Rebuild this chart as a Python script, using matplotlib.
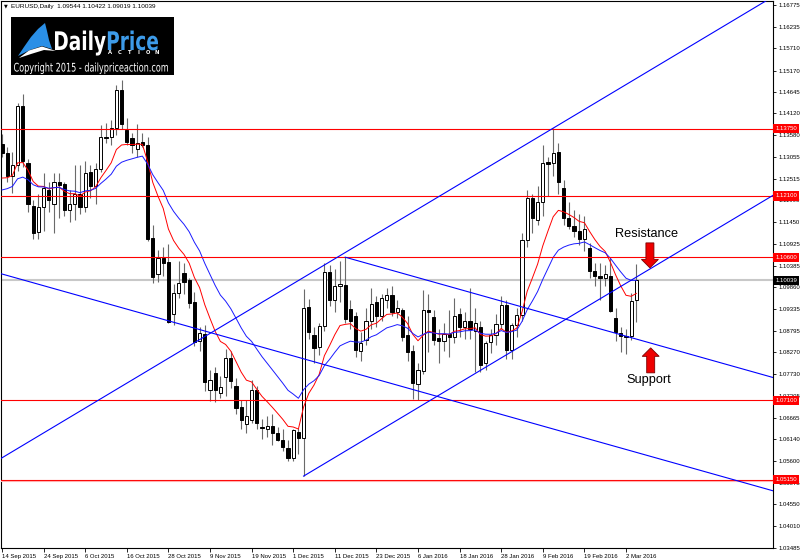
import matplotlib
matplotlib.use('Agg')
import matplotlib.pyplot as plt
import matplotlib.transforms as mtransforms
from matplotlib.patches import Polygon, Rectangle, PathPatch
from matplotlib.textpath import TextPath, TextToPath
from matplotlib.font_manager import FontProperties

# EURUSD daily, 14 Sep 2015 .. 4 Mar 2016 (123 bars)
opens = [1.1338, 1.1316, 1.1260, 1.1285, 1.1430, 1.1290, 1.1185, 1.1122, 1.1183, 1.1225,
         1.1190, 1.1243, 1.1240, 1.1175, 1.1190, 1.1215, 1.1183, 1.1268, 1.1235, 1.1275,
         1.1355, 1.1355, 1.1376, 1.1470, 1.1371, 1.1352, 1.1325, 1.1343, 1.1335, 1.1107,
         1.1018, 1.1058, 1.1049, 1.0921, 1.0973, 1.1021, 1.1004, 1.0950, 1.0855, 1.0873,
         1.0736, 1.0777, 1.0728, 1.0767, 1.0814, 1.0745, 1.0694, 1.0651, 1.0662, 1.0735,
         1.0645, 1.0640, 1.0647, 1.0630, 1.0613, 1.0594, 1.0568, 1.0632, 1.0617, 1.0938,
         1.0870, 1.0840, 1.0891, 1.1024, 1.0955, 1.0990, 1.0993, 1.0932, 1.0915, 1.0830,
         1.0857, 1.0903, 1.0950, 1.0915, 1.0955, 1.0967, 1.0925, 1.0930, 1.0870, 1.0830,
         1.0750, 1.0782, 1.0930, 1.0913, 1.0863, 1.0855, 1.0873, 1.0865, 1.0922, 1.0888,
         1.0905, 1.0880, 1.0889, 1.0800, 1.0852, 1.0870, 1.0897, 1.0943, 1.0833, 1.0893,
         1.0918, 1.1103, 1.1205, 1.1150, 1.1195, 1.1292, 1.1290, 1.1318, 1.1230, 1.1155,
         1.1136, 1.1125, 1.1105, 1.1083, 1.1027, 1.1015, 1.1010, 1.1015, 1.0912, 1.0875,
         1.0867, 1.0867, 1.09544]
highs = [1.1362, 1.1330, 1.1318, 1.1437, 1.1460, 1.1300, 1.1200, 1.1215, 1.1265, 1.1245,
         1.1265, 1.1265, 1.1245, 1.1225, 1.1286, 1.1286, 1.1295, 1.1285, 1.1290, 1.1384,
         1.1388, 1.1395, 1.1482, 1.1494, 1.1400, 1.1365, 1.1385, 1.1365, 1.1355, 1.1139,
         1.1077, 1.1085, 1.1093, 1.0995, 1.1050, 1.1046, 1.1010, 1.0975, 1.0888, 1.0895,
         1.0785, 1.0790, 1.0770, 1.0836, 1.0830, 1.0765, 1.0710, 1.0710, 1.0760, 1.0745,
         1.0665, 1.0670, 1.0677, 1.0645, 1.0640, 1.0612, 1.0640, 1.0643, 1.0982, 1.0958,
         1.0890, 1.0900, 1.1046, 1.1040, 1.1030, 1.1050, 1.1060, 1.0955, 1.0925, 1.0877,
         1.0935, 1.0985, 1.0965, 1.0970, 1.0985, 1.0990, 1.0955, 1.0935, 1.0915, 1.0845,
         1.0800, 1.0980, 1.0970, 1.0930, 1.0885, 1.0900, 1.0930, 1.0960, 1.0935, 1.0925,
         1.0985, 1.0935, 1.0905, 1.0855, 1.0885, 1.0920, 1.0965, 1.0955, 1.0900, 1.0935,
         1.1120, 1.1225, 1.1215, 1.1235, 1.1335, 1.1305, 1.1376, 1.1340, 1.1250, 1.1195,
         1.1175, 1.1165, 1.1160, 1.1095, 1.1045, 1.1045, 1.1040, 1.1058, 1.0935, 1.0890,
         1.0885, 1.0973, 1.10422]
lows = [1.1305, 1.1245, 1.1218, 1.1270, 1.1280, 1.1170, 1.1105, 1.1105, 1.1125, 1.1170,
        1.1120, 1.1155, 1.1160, 1.1145, 1.1150, 1.1165, 1.1170, 1.1205, 1.1190, 1.1268,
        1.1340, 1.1335, 1.1360, 1.1375, 1.1335, 1.1315, 1.1305, 1.1330, 1.1100, 1.0997,
        1.1000, 1.1015, 1.0898, 1.0895, 1.0960, 1.0970, 1.0935, 1.0843, 1.0830, 1.0733,
        1.0708, 1.0705, 1.0715, 1.0720, 1.0740, 1.0675, 1.0640, 1.0630, 1.0655, 1.0640,
        1.0615, 1.0620, 1.0601, 1.0610, 1.0585, 1.0560, 1.0560, 1.0578, 1.0524, 1.0860,
        1.0800, 1.0820, 1.0880, 1.0940, 1.0925, 1.0950, 1.0900, 1.0885, 1.0815, 1.0806,
        1.0845, 1.0885, 1.0890, 1.0905, 1.0935, 1.0915, 1.0910, 1.0855, 1.0805, 1.0712,
        1.0710, 1.0775, 1.0828, 1.0845, 1.0800, 1.0830, 1.0815, 1.0850, 1.0865, 1.0860,
        1.0860, 1.0780, 1.0780, 1.0785, 1.0825, 1.0845, 1.0885, 1.0810, 1.0810, 1.0865,
        1.0905, 1.1085, 1.1120, 1.1140, 1.1160, 1.1210, 1.1260, 1.1215, 1.1140, 1.1130,
        1.1110, 1.1090, 1.1075, 1.1010, 1.0990, 1.0956, 1.0990, 1.0925, 1.0855, 1.0828,
        1.0822, 1.0858, 1.09019]
closes = [1.1316, 1.1258, 1.1285, 1.1430, 1.1295, 1.1190, 1.1120, 1.1183, 1.1230, 1.1200,
          1.1243, 1.1238, 1.1175, 1.1190, 1.1215, 1.1183, 1.1265, 1.1235, 1.1275, 1.1355,
          1.1353, 1.1376, 1.1470, 1.1385, 1.1342, 1.1335, 1.1340, 1.1335, 1.1105, 1.1012,
          1.1058, 1.1046, 1.0902, 1.0973, 1.0997, 1.0999, 1.0948, 1.0853, 1.0874, 1.0755,
          1.0760, 1.0735, 1.0743, 1.0813, 1.0757, 1.0690, 1.0662, 1.0670, 1.0735, 1.0655,
          1.0642, 1.0647, 1.0630, 1.0613, 1.0596, 1.0569, 1.0637, 1.0617, 1.0936, 1.0877,
          1.0838, 1.0892, 1.1024, 1.0955, 1.0990, 1.0994, 1.0908, 1.0905, 1.0832, 1.0850,
          1.0903, 1.0945, 1.0915, 1.0960, 1.0967, 1.0926, 1.0935, 1.0865, 1.0828, 1.0752,
          1.0785, 1.0930, 1.0925, 1.0858, 1.0855, 1.0873, 1.0865, 1.0915, 1.0888, 1.0905,
          1.0885, 1.0898, 1.0796, 1.0849, 1.0870, 1.0897, 1.0943, 1.0833, 1.0895, 1.0918,
          1.1103, 1.1205, 1.1156, 1.1195, 1.1290, 1.1288, 1.1316, 1.1245, 1.1155, 1.1136,
          1.1123, 1.1105, 1.1130, 1.1027, 1.1015, 1.1010, 1.1018, 1.0929, 1.0878, 1.0867,
          1.0864, 1.0953, 1.10039]

date_labels = ['14 Sep 2015', '24 Sep 2015', '6 Oct 2015', '16 Oct 2015', '28 Oct 2015',
               '9 Nov 2015', '19 Nov 2015', '1 Dec 2015', '11 Dec 2015', '23 Dec 2015',
               '6 Jan 2016', '18 Jan 2016', '28 Jan 2016', '9 Feb 2016', '19 Feb 2016',
               '2 Mar 2016']
price_ticks = [1.16775, 1.16235, 1.15710, 1.15170, 1.14645, 1.14120, 1.13580, 1.13055,
               1.12515, 1.11990, 1.11450, 1.10925, 1.10385, 1.09860, 1.09335, 1.08795,
               1.08270, 1.07730, 1.07205, 1.06665, 1.06140, 1.05600, 1.05075, 1.04550,
               1.04010, 1.03485]
levels = [1.13750, 1.12100, 1.10600, 1.07100, 1.05150]
last_price = 1.10039

# moving averages (10 and 20 EMA), values before the first bar
ema_fast_seed = 1.1240
ema_slow_seed = 1.1215

# trend channel anchors (bar, price)
up_anchor = (0, 1.05688)
up_touch = (106, 1.1376)
up_low_anchor = (58, 1.0524)
dn_anchor = (66, 1.1060)
dn_low_anchor = (26.5, 1.0924)
dn_slope = -0.000358


def ema(vals, period, seed):
    a = 2.0 / (period + 1)
    out = []
    prev = seed
    for v in vals:
        prev = prev + a * (v - prev)
        out.append(prev)
    return out


n = len(closes)
x = list(range(n))

fig = plt.figure(figsize=(8, 5.6), dpi=100)
ax = fig.add_axes([1 / 800, 12 / 560, 772 / 800, 547 / 560])
ax.set_xlim(-0.19, 148.27)
ax.set_ylim(1.0348, 1.16873)

# candles
ax.vlines(x, lows, highs, color='#6a6a6a', lw=0.8, zorder=2)
for i in range(n):
    o, c = opens[i], closes[i]
    bottom = min(o, c)
    h = max(abs(c - o), 0.00012)
    fc = 'white' if c >= o else 'black'
    ax.add_patch(Rectangle((i - 0.31, bottom), 0.62, h, fc=fc, ec='black', lw=0.7, zorder=3))

# moving averages
ax.plot(x, ema(closes, 10, ema_fast_seed), color='#ff0000', lw=0.7, zorder=4)
ax.plot(x, ema(closes, 20, ema_slow_seed), color='#1a1aff', lw=0.7, zorder=4)

# horizontal levels
ax.axhline(last_price, color='#c8c8c8', lw=1.5, zorder=1)
for lv in levels:
    ax.axhline(lv, color='#ff0000', lw=0.8, zorder=4)
ax.axhline(levels[-1] - 0.00022, color='#ffb0b0', lw=0.8, zorder=4)

# channels
up_slope = (up_touch[1] - up_anchor[1]) / (up_touch[0] - up_anchor[0])
xr = 150
ax.plot([-1, xr], [up_anchor[1] + up_slope * (-1 - up_anchor[0]),
                   up_anchor[1] + up_slope * (xr - up_anchor[0])], color='#0000ff', lw=0.8, zorder=5)
ax.plot([up_low_anchor[0], xr], [up_low_anchor[1],
                                 up_low_anchor[1] + up_slope * (xr - up_low_anchor[0])],
        color='#0000ff', lw=0.8, zorder=5)
ax.plot([dn_anchor[0], xr], [dn_anchor[1], dn_anchor[1] + dn_slope * (xr - dn_anchor[0])],
        color='#0000ff', lw=0.8, zorder=5)
ax.plot([-1, xr], [dn_low_anchor[1] + dn_slope * (-1 - dn_low_anchor[0]),
                   dn_low_anchor[1] + dn_slope * (xr - dn_low_anchor[0])], color='#0000ff', lw=0.8, zorder=5)

# axes styling
for s in ax.spines.values():
    s.set_linewidth(0.8)
ax.yaxis.tick_right()
ax.set_yticks(price_ticks)
ax.set_yticklabels(['%.5f' % t for t in price_ticks], fontsize=4.3, family='Liberation Sans')
ax.set_xticks(list(range(0, 8 * len(date_labels), 8)))
ax.set_xticklabels(date_labels, fontsize=4.3, family='Liberation Sans', ha='left')
ax.tick_params(axis='y', length=2.5, width=0.6, pad=1.5)
ax.tick_params(axis='x', length=3, width=0.6, pad=1)
ax.tick_params(axis='both', direction='out')

trans = mtransforms.blended_transform_factory(ax.transAxes, ax.transData)
for lv in levels:
    ax.text(1.003, lv, '%.5f' % lv, transform=trans, fontsize=4.3, family='Liberation Sans',
            color='white', va='center', ha='left', zorder=10,
            bbox=dict(boxstyle='square,pad=0.35', fc='#ff0000', ec='none'))
ax.text(1.003, last_price, '%.5f' % last_price, transform=trans, fontsize=4.3,
        family='Liberation Sans', color='white', va='center', ha='left', zorder=10,
        bbox=dict(boxstyle='square,pad=0.35', fc='black', ec='none'))

# header
fig.text(4 / 800, 1 - 6 / 560, '\u25bc', fontsize=3.5, va='center', ha='left')
fig.text(11 / 800, 1 - 6.5 / 560, 'EURUSD,Daily  1.09544 1.10422 1.09019 1.10039',
         fontsize=4.6, family='Liberation Sans', va='center', ha='left')

# annotations
ax_px = 5.2
py_px = 1 / 4086.0


def block_arrow(cx, tip, down):
    d = 1 if down else -1
    pts = [(-4, 25), (4, 25), (4, 8.5), (8.5, 8.5), (0, 0), (-8.5, 8.5), (-4, 8.5)]
    verts = [(cx + px / ax_px, tip + d * py * py_px) for px, py in pts]
    ax.add_patch(Polygon(verts, closed=True, fc='#ee0000', ec='#7a0000', lw=0.6, zorder=8))


block_arrow(124.6, 1.16775 - (268 - 5) * py_px, True)
block_arrow(124.75, 1.16775 - (348 - 5) * py_px, False)
ax.text(124.0, 1.16775 - (237.5 - 5) * py_px, 'Resistance', fontsize=9.2,
        family='Liberation Sans', ha='center', va='baseline', zorder=8)
ax.text(124.4, 1.16775 - (383.5 - 5) * py_px, 'Support', fontsize=9.2,
        family='Liberation Sans', ha='center', va='baseline', zorder=8)

# logo (overlay in image pixel coordinates, y measured upward)
lg = fig.add_axes([0, 0, 1, 1], facecolor='none')
lg.set_xlim(0, 800)
lg.set_ylim(0, 560)
lg.axis('off')
lg.add_patch(Rectangle((11, 560 - 75), 163, 58, fc='black', ec='none'))

wing = [(18, 56), (24, 47), (31, 37), (38, 29), (45, 23), (47, 31), (49, 40), (52, 49),
        (42, 46), (30, 50)]
lg.add_patch(Polygon([(a, 560 - b) for a, b in wing], fc='#2a8fe6', ec='none'))
swoosh = [(19, 58), (29, 50.5), (42, 46.5), (56, 51), (44, 50), (31, 54)]
lg.add_patch(Polygon([(a, 560 - b) for a, b in swoosh], fc='white', ec='none'))

fp = FontProperties(family='DejaVu Sans', weight='bold')
w_daily = TextToPath().get_text_width_height_descent('Daily', fp, ismath=False)[0]
p1 = TextPath((0, 0), 'Daily', size=10, prop=fp)
p2 = TextPath((w_daily * 10 / fp.get_size_in_points(), 0), 'Price', size=10, prop=fp)
e1, e2 = p1.get_extents(), p2.get_extents()
x0, x1 = e1.x0, e2.x1
ytop = max(e1.y1, e2.y1)
base_scale_y = (50 - 30.5) / ytop
tr = (mtransforms.Affine2D().translate(-x0, 0)
      .scale((158 - 55) / (x1 - x0), base_scale_y).translate(55, 560 - 50))
lg.add_patch(PathPatch(tr.transform_path(p1), fc='white', ec='none'))
lg.add_patch(PathPatch(tr.transform_path(p2), fc='#3d9be9', ec='none'))

for k, ch in enumerate('ACTION'):
    lg.text(110 + k * 9.4, 560 - 54, ch, fontsize=3.8, weight='bold', color='white',
            ha='center', va='baseline')

cp = TextPath((0, 0), 'Copyright 2015 - dailypriceaction.com', size=10,
              prop=FontProperties(family='DejaVu Sans'))
ce = cp.get_extents()
tr2 = (mtransforms.Affine2D().translate(-ce.x0, -ce.y0)
       .scale((168 - 14) / ce.width, (74 - 62.5) / ce.height).translate(14, 560 - 74))
lg.add_patch(PathPatch(tr2.transform_path(cp), fc='white', ec='none'))

fig.savefig('out.png', dpi=100)
